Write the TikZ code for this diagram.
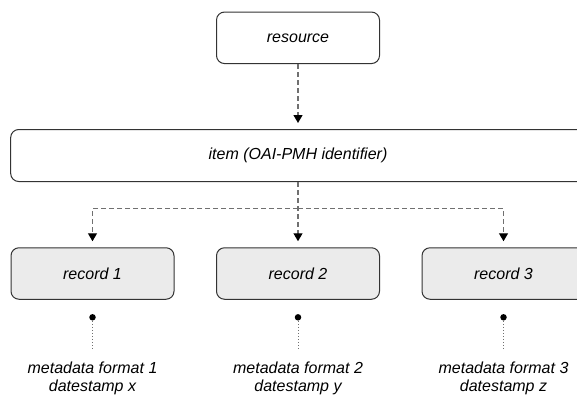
\documentclass[tikz,border=0pt]{standalone}
\usepackage{fontspec}
\setmainfont{Liberation Sans}
\usetikzlibrary{arrows.meta}

\definecolor{edgegray}{HTML}{333333}
\definecolor{recfill}{HTML}{EBEBEB}
\definecolor{linkgray}{HTML}{707070}

\begin{document}
\begin{tikzpicture}[x=1pt,y=1pt]
        \tikzstyle{every node}+=[inner sep=0pt, font=\fontsize{16}{18.4}\selectfont\itshape]
        \tikzstyle{entity}=[draw=edgegray, line width=1pt, rounded corners=8pt, minimum width=163pt, minimum height=51.5pt, fill=white]
        \tikzstyle{recordbox}=[entity, fill=recfill]
        \tikzstyle{link}=[draw=linkgray, line width=1.3pt, dash pattern=on 5pt off 3pt, -{Triangle[width=9pt,length=8pt,color=black]}, shorten >=6pt]
        \tikzstyle{trail}=[draw=linkgray, line width=1pt, dash pattern=on 1pt off 2pt, shorten >=12.4pt]
        \tikzstyle{anchordot}=[circle, fill=black, minimum size=6.5pt]
        \useasboundingbox (0,0) rectangle (577,-394);
        \clip (0,0) rectangle (577,-394);
        \node [entity] (resource) at (298,-37.8) {resource};
        \node [entity, minimum width=574.6pt, minimum height=52pt] (item) at (298,-155.5) {item (OAI-PMH identifier)};
        \node [recordbox] (rec1) at (92.5,-273.5) {record 1};
        \node [recordbox] (rec2) at (298,-273.5) {record 2};
        \node [recordbox] (rec3) at (503.5,-273.5) {record 3};
        \node [anchordot] (dot1) at (92.5,-317.3) {};
        \node [anchordot] (dot2) at (298,-317.3) {};
        \node [anchordot] (dot3) at (503.5,-317.3) {};
        \node [anchor=base, align=center] (meta1) at (92.5,-391.7) {metadata format 1\\datestamp x};
        \node [anchor=base, align=center] (meta2) at (298,-391.7) {metadata format 2\\datestamp y};
        \node [anchor=base, align=center] (meta3) at (503.5,-391.7) {metadata format 3\\datestamp z};
        \coordinate (fork) at (298,-208.7);
        \draw [link] (resource) -- (item);
        \draw [link] (item) -- (rec2);
        \draw [link] (fork) -| (rec1);
        \draw [link] (fork) -| (rec3);
        \draw [trail] (dot1) -- (meta1);
        \draw [trail] (dot2) -- (meta2);
        \draw [trail] (dot3) -- (meta3);
\end{tikzpicture}
\end{document}
